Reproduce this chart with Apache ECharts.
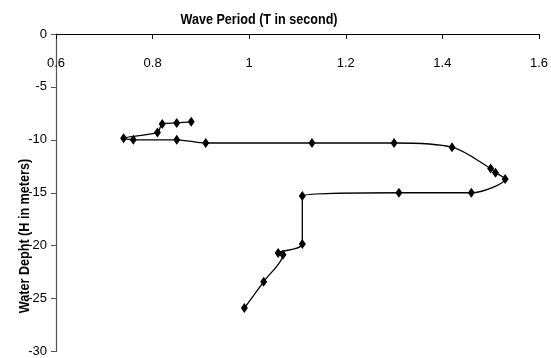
<!DOCTYPE html>
<html>
<head>
<meta charset="utf-8">
<script src="https://cdn.jsdelivr.net/npm/echarts@6/dist/echarts.min.js"></script>
<style>
  html, body { margin: 0; padding: 0; background: #fff; }
  #chart { width: 551px; height: 358px; }
</style>
</head>
<body>
<div id="chart"></div>
<script>
// wave period (s) and water depth (m), in the order the curve runs
var periodT = [0.88, 0.85, 0.82, 0.81, 0.74, 0.76, 0.85, 0.91, 1.13, 1.30, 1.42,
  1.50, 1.51, 1.53, 1.46, 1.31, 1.11, 1.11, 1.06, 1.07, 1.03, 0.99];
var depthH = [-8.3, -8.4, -8.5, -9.3, -9.85, -10.0, -10.0, -10.3, -10.3, -10.3, -10.7,
  -12.7, -13.1, -13.7, -15.0, -15.0, -15.3, -19.85, -20.7, -20.85, -23.4, -25.9];

var font = '"Liberation Sans", Arial, sans-serif';

var points = [];
for (var i = 0; i < periodT.length; i++) {
  points.push([periodT[i], depthH[i]]);
}

var myChart = echarts.init(document.getElementById('chart'));
var option = {
  animation: false,
  grid: { left: 56, top: 34, right: 11, bottom: 6 },
  xAxis: {
    type: 'value',
    position: 'top',
    min: 0.6,
    max: 1.6,
    interval: 0.2,
    axisLine: { onZero: false, lineStyle: { color: '#000', width: 1.2 } },
    axisTick: { inside: true, length: 5, lineStyle: { color: '#000' } },
    axisLabel: { inside: true, margin: 23, color: '#000', fontSize: 13, fontFamily: font },
    splitLine: { show: false }
  },
  yAxis: {
    type: 'value',
    min: -30,
    max: 0,
    interval: 5,
    axisLine: { show: true, onZero: false, lineStyle: { color: '#555', width: 1.2 } },
    axisTick: { show: true, length: 5, lineStyle: { color: '#555' } },
    axisLabel: { margin: 9, color: '#000', fontSize: 13, fontFamily: font },
    splitLine: { show: false }
  },
  graphic: [
    {
      type: 'text',
      x: 259, y: 20,
      scaleX: 0.84,
      style: {
        text: 'Wave Period (T in second)',
        fill: '#000',
        font: 'bold 15px ' + font,
        textAlign: 'center',
        textVerticalAlign: 'middle'
      }
    },
    {
      type: 'text',
      x: 25, y: 236,
      rotation: Math.PI / 2,
      scaleX: 0.84,
      style: {
        text: 'Water Depht (H in meters)',
        fill: '#000',
        font: 'bold 15px ' + font,
        textAlign: 'center',
        textVerticalAlign: 'middle'
      }
    }
  ],
  series: [{
    type: 'line',
    data: points,
    smooth: 0.3,
    symbol: 'diamond',
    symbolSize: [7, 10],
    itemStyle: { color: '#000' },
    lineStyle: { color: '#000', width: 1.3 }
  }]
};
myChart.setOption(option);
</script>
</body>
</html>
